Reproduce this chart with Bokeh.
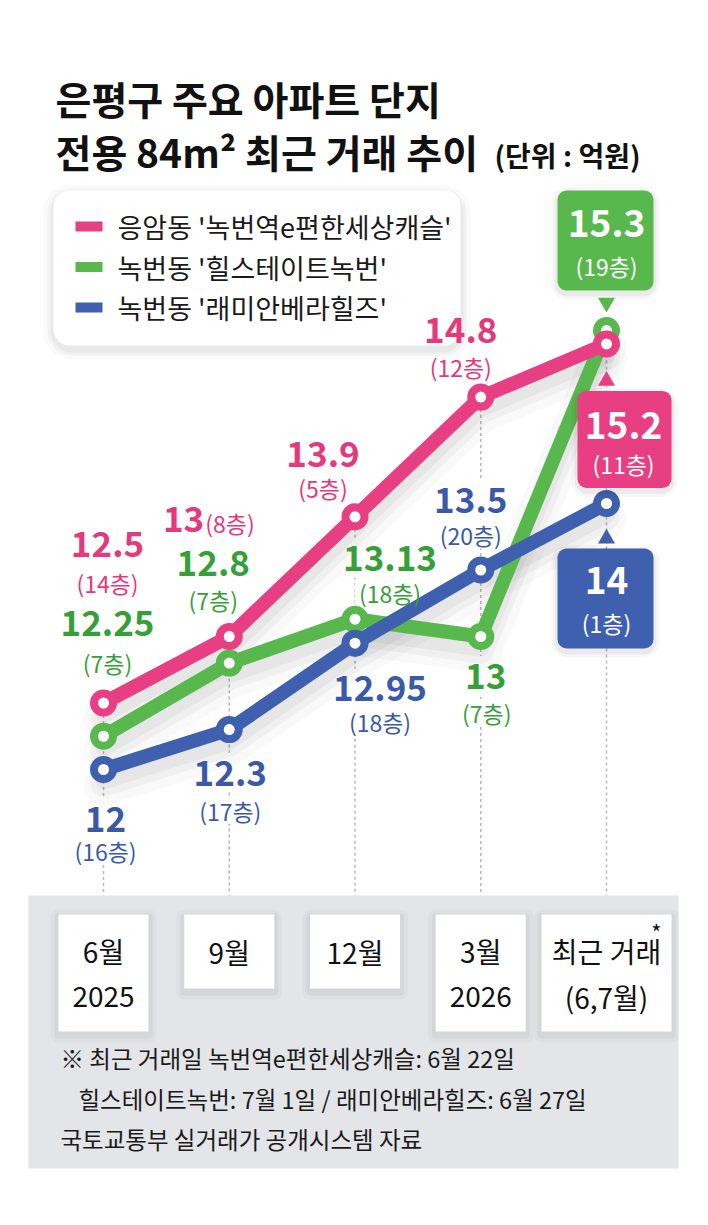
from bokeh.plotting import figure
from bokeh.models import Range1d, ColumnDataSource
from bokeh.core.properties import value
from bokeh.embed import file_html
from bokeh.resources import INLINE

# ---------------- data ----------------
periods = ["6월", "9월", "12월", "3월", "최근 거래"]
period_sub = ["2025", "", "", "2026", "(6,7월)"]
series_names = ["응암동 '녹번역e편한세상캐슬'", "녹번동 '힐스테이트녹번'", "녹번동 '래미안베라힐즈'"]
pink_vals = [12.5, 13, 13.9, 14.8, 15.2]
green_vals = [12.25, 12.8, 13.13, 13, 15.3]
blue_vals = [12, 12.3, 12.95, 13.5, 14]
pink_floors = ["(14층)", "(8층)", "(5층)", "(12층)", "(11층)"]
green_floors = ["(7층)", "(7층)", "(18층)", "(7층)", "(19층)"]
blue_floors = ["(16층)", "(17층)", "(18층)", "(20층)", "(1층)"]
title_lines = ["은평구 주요 아파트 단지", "전용 84m² 최근 거래 추이"]
unit_text = "(단위 : 억원)"
notes = ["※ 최근 거래일 녹번역e편한세상캐슬: 6월 22일",
         "힐스테이트녹번: 7월 1일 / 래미안베라힐즈: 6월 27일",
         "국토교통부 실거래가 공개시스템 자료"]

# ---------------- styles / layout ----------------
PINK, GREEN, BLUE = "#e83e82", "#58b84e", "#3e60ae"
PINK_T, GREEN_T, BLUE_T = "#e5397d", "#36a038", "#3a5aa8"
W, H = 708, 1225
X0, XSTEP = 103.0, 125.75       # pixel of first period, pixels between periods
YA, YK = 2365.0, 133.0          # pixel = YA - YK * value
VAL_SIZE, FLOOR_SIZE = 35, 23


def X(px):
    return (px - X0) / XSTEP


def Y(py):
    return (YA - py) / YK


def ox(px):
    return px / XSTEP


def oy(px):  # screen offset (downwards positive) -> data offset
    return -px / YK


def est_width(s, size):
    w = 0.0
    for ch in s:
        if "\uac00" <= ch <= "\ud7a3":
            w += 0.92
        elif ch.isdigit():
            w += 0.57
        elif ch in "()":
            w += 0.33
        elif ch == ".":
            w += 0.27
        else:
            w += 0.5
    return w * size


FONT = value("Noto Sans CJK KR")

p = figure(width=W, height=H, x_range=Range1d(X(0), X(W)), y_range=Range1d(Y(H), Y(0)),
           x_axis_type=None, y_axis_type=None, output_backend="svg", toolbar_location=None,
           min_border=0, outline_line_color=None, background_fill_color="white",
           border_fill_color="white")


def text(xs, ys, texts, color, size, bold=False, align="center"):
    src = ColumnDataSource(dict(x=list(xs), y=list(ys), t=list(texts)))
    p.text(x="x", y="y", text="t", source=src, text_font=FONT, text_font_size=f"{size}px",
           text_font_style="bold" if bold else "normal", text_color=color,
           text_align=align, text_baseline="middle")


def box(l, r, t, b, color, radius=0, alpha=1.0):
    p.quad(left=[l], right=[r], top=[t], bottom=[b], fill_color=color, fill_alpha=alpha,
           line_color=None, border_radius=radius)


idx = list(range(len(periods)))
series = [
    (green_vals, green_floors, GREEN, GREEN_T),
    (blue_vals, blue_floors, BLUE, BLUE_T),
    (pink_vals, pink_floors, PINK, PINK_T),
]

# data labels: (value dx, value dy, value align, floor dx, floor dy, floor align) in px
pink_lab = [(4, -159, "center", 4, -120, "center"),
            (-25, -118, "right", -24, -114, "left"),
            (-32, -63, "center", -32, -29, "center"),
            (-20, -67, "center", -20, -30, "center")]
green_lab = [(4, -113, "center", 4, -73, "center"),
             (-16, -100, "center", -16, -63, "center"),
             (35, -61, "center", 35, -26, "center"),
             (5, 39, "center", 6, 76, "center")]
blue_lab = [(2, 49, "center", 2, 81, "center"),
            (1, 43, "center", 1, 81, "center"),
            (25, 45, "center", 25, 79, "center"),
            (-10, -70, "center", -10, -35, "center")]
label_sets = [green_lab, blue_lab, pink_lab]

PANEL_TOP = 895

# dotted guides
tops = [max(a, b, c) for a, b, c in zip(pink_vals, green_vals, blue_vals)]
p.segment(x0=idx, y0=tops, x1=idx, y1=[Y(PANEL_TOP)] * len(idx), line_color="#b8b8b8",
          line_width=1.5, line_dash="3 3")

# white halos behind labels (hide the guides)
for (vals, floors, _, _), labs in zip(series, label_sets):
    for i, (vdx, vdy, va, fdx, fdy, fa) in enumerate(labs):
        v = vals[i]
        for s, size, ddx, ddy, al in [(f"{v:g}", VAL_SIZE, vdx, vdy, va),
                                      (floors[i], FLOOR_SIZE, fdx, fdy, fa)]:
            w = est_width(s, size) + 8
            if al == "center":
                l, r = ddx - w / 2, ddx + w / 2
            elif al == "right":
                l, r = ddx - w, ddx + 4
            else:
                l, r = ddx - 4, ddx + w
            hh = size * 0.5 + 2
            box(i + ox(l), i + ox(r), v + oy(ddy - hh), v + oy(ddy + hh), "white")

# line shadows
for vals, _, _, _ in series:
    for w, a, off in [(40, 0.025, 16), (26, 0.035, 14), (16, 0.04, 12)]:
        p.line(idx, [v + oy(off) for v in vals], line_width=w, line_color="black",
               line_alpha=a, line_join="round", line_cap="round")

# title
text([X(55)], [Y(97)], [title_lines[0]], "#111111", 39, bold=True, align="left")
text([X(55)], [Y(150)], [title_lines[1]], "#111111", 39, bold=True, align="left")
text([X(494)], [Y(154)], [unit_text], "#111111", 28, bold=True, align="left")

# legend box
for grow, a in [(10, 0.02), (6, 0.03), (3, 0.04)]:
    box(X(53 - grow), X(460 + grow), Y(190 - grow + 4), Y(345 + grow + 4), "black", 18 + grow, a)
box(X(53), X(460), Y(190), Y(345), "white", 16)
for k, (col, name) in enumerate(zip([PINK, GREEN, BLUE], series_names)):
    yc = 226 + 40.5 * k
    box(X(75), X(102), Y(yc - 5), Y(yc + 5), col)
    text([X(117)], [Y(yc)], [name], "#1a1a1a", 27, align="left")

# lines and markers
for vals, _, col, _ in series:
    p.line(idx, vals, line_width=14, line_color=col, line_join="round", line_cap="round")
for vals, _, col, _ in series:
    p.scatter(idx, vals, size=27, fill_color=col, line_color=None)
    p.scatter(idx, vals, size=11, fill_color="white", line_color=None)

# data labels
for (vals, floors, col, tcol), labs in zip(series, label_sets):
    for i, (vdx, vdy, va, fdx, fdy, fa) in enumerate(labs):
        v = vals[i]
        text([i + ox(vdx)], [v + oy(vdy)], [f"{v:g}"], tcol, VAL_SIZE, bold=True, align=va)
        text([i + ox(fdx)], [v + oy(fdy)], [floors[i]], tcol, FLOOR_SIZE, align=fa)

# callouts at the latest period
last = len(periods) - 1
callouts = [
    (green_vals, green_floors, GREEN, (-49, 47, -140, -40), -28, "inverted_triangle", -107, -65, 0),
    (pink_vals, pink_floors, PINK, (-29, 65, 47, 144), 37, "triangle", 82, 120, 17),
    (blue_vals, blue_floors, BLUE, (-49, 47, 45, 145), 35, "triangle", 77, 119, 0),
]
for vals, floors, col, (bl, br, bt, bb), pdy, mk, vdy, fdy, tdx in callouts:
    v = vals[last]
    for grow, a in [(6, 0.03), (3, 0.05)]:
        box(last + ox(bl - grow), last + ox(br + grow), v + oy(bt - grow + 3), v + oy(bb + grow + 3),
            "black", 10 + grow, a)
    box(last + ox(bl), last + ox(br), v + oy(bt), v + oy(bb), col, 9)
    p.scatter([last], [v + oy(pdy)], marker=mk, size=17, fill_color=col, line_color=None)
    text([last + ox(tdx)], [v + oy(vdy)], [f"{v:g}"], "white", 37, bold=True)
    text([last + ox(tdx)], [v + oy(fdy)], [floors[last]], "white", 23)

# bottom panel
box(X(28), X(678), Y(PANEL_TOP), Y(1168), "#e3e5e8")
for i, (m, s) in enumerate(zip(periods, period_sub)):
    half = 65 if i == last else 45
    bottom = 1031 if s else 988
    for grow, a in [(8, 0.025), (4, 0.04)]:
        box(i + ox(-half - grow), i + ox(half + grow), Y(914 - grow + 3), Y(bottom + grow + 3),
            "black", grow, a)
    box(i + ox(-half), i + ox(half), Y(914), Y(bottom), "white")
    if s:
        text([i], [Y(950)], [m], "#111111", 28)
        text([i], [Y(996)], [s], "#111111", 28)
    else:
        text([i], [Y(951)], [m], "#111111", 28)
text([last + ox(50)], [Y(930)], ["*"], "#111111", 22)

text([X(60)], [Y(1057)], [notes[0]], "#1a1a1a", 23.5, align="left")
text([X(78)], [Y(1098)], [notes[1]], "#1a1a1a", 23.5, align="left")
text([X(60)], [Y(1138)], [notes[2]], "#1a1a1a", 23.5, align="left")

open("out.html", "w").write(file_html(p, INLINE))
